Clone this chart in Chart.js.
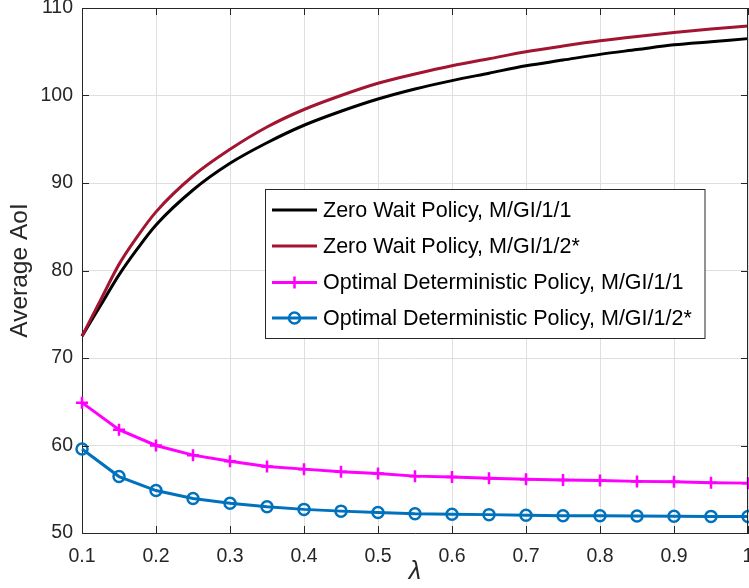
<!DOCTYPE html>
<html><head><meta charset="utf-8">
<script src="https://cdn.jsdelivr.net/npm/chart.js@4.4.1/dist/chart.umd.min.js"></script>
<style>html,body{margin:0;padding:0;background:#fff;overflow:hidden}canvas{display:block}</style>
</head><body>
<canvas id="c" width="749" height="588"></canvas>
<script>
// ---- data ----
const zwLambda = [0.1, 0.125, 0.15, 0.175, 0.2, 0.25, 0.3, 0.35, 0.4, 0.45, 0.5, 0.55, 0.6, 0.65, 0.7, 0.75, 0.8, 0.85, 0.9, 0.95, 1.0];
const zeroWaitGI11 = [72.5, 76.0, 79.5, 82.5, 85.2, 89.2, 92.25, 94.6, 96.6, 98.2, 99.6, 100.75, 101.7, 102.55, 103.4, 104.05, 104.7, 105.25, 105.8, 106.15, 106.5];
const zeroWaitGI12 = [72.5, 76.6, 80.7, 83.9, 86.7, 90.8, 93.85, 96.4, 98.4, 100.0, 101.4, 102.45, 103.4, 104.2, 105.0, 105.65, 106.25, 106.75, 107.2, 107.6, 107.95];
const optLambda = [0.1, 0.15, 0.2, 0.25, 0.3, 0.35, 0.4, 0.45, 0.5, 0.55, 0.6, 0.65, 0.7, 0.75, 0.8, 0.85, 0.9, 0.95, 1.0];
const optGI11 = [64.9, 61.8, 60.0, 58.9, 58.2, 57.6, 57.3, 57.0, 56.8, 56.5, 56.4, 56.25, 56.15, 56.05, 56.0, 55.9, 55.85, 55.75, 55.7];
const optGI12 = [59.6, 56.45, 54.85, 53.95, 53.4, 53.0, 52.7, 52.5, 52.35, 52.2, 52.15, 52.1, 52.02, 51.98, 51.96, 51.94, 51.92, 51.9, 51.88];
const xTickValues = [0.1, 0.2, 0.3, 0.4, 0.5, 0.6, 0.7, 0.8, 0.9, 1];
const yTickValues = [50, 60, 70, 80, 90, 100, 110];
const seriesLabels = ['Zero Wait Policy, M/GI/1/1', 'Zero Wait Policy, M/GI/1/2*', 'Optimal Deterministic Policy, M/GI/1/1', 'Optimal Deterministic Policy, M/GI/1/2*'];
const xTitle = 'λ';
const yTitle = 'Average AoI';

const pts = (xs, ys) => xs.map((x, i) => ({x: x, y: ys[i]}));
const FONT = '"Liberation Sans", Arial, sans-serif';
const AXC = '#262626';

const boxTicks = {
  id: 'boxTicks',
  afterDatasetsDraw(chart) {
    const {ctx, chartArea: a, scales: {x, y}} = chart;
    ctx.save();
    ctx.strokeStyle = AXC; ctx.lineWidth = 1;
    ctx.beginPath();
    ctx.moveTo(a.left, a.top + 0.5); ctx.lineTo(a.right, a.top + 0.5);
    ctx.moveTo(a.right - 0.5, a.top); ctx.lineTo(a.right - 0.5, a.bottom);
    const L = 7;
    xTickValues.forEach(v => {
      const px = Math.round(x.getPixelForValue(v)) + 0.5;
      ctx.moveTo(px, a.bottom); ctx.lineTo(px, a.bottom - L);
      ctx.moveTo(px, a.top); ctx.lineTo(px, a.top + L);
    });
    yTickValues.forEach(v => {
      const py = Math.round(y.getPixelForValue(v)) + 0.5;
      ctx.moveTo(a.left, py); ctx.lineTo(a.left + L, py);
      ctx.moveTo(a.right, py); ctx.lineTo(a.right - L, py);
    });
    ctx.stroke();
    ctx.restore();
  }
};

const insideLegend = {
  id: 'insideLegend',
  afterDraw(chart) {
    const {ctx, chartArea: a} = chart;
    const bx = a.left + 183.5, by = a.top + 181.5, bw = 439.5, bh = 149;
    ctx.save();
    ctx.fillStyle = '#fff';
    ctx.fillRect(bx, by, bw, bh);
    ctx.strokeStyle = AXC; ctx.lineWidth = 1;
    ctx.strokeRect(bx, by, bw, bh);
    const rows = [210, 246, 282.5, 318];
    chart.data.datasets.forEach((ds, i) => {
      const yy = rows[i];
      ctx.strokeStyle = ds.borderColor; ctx.lineWidth = ds.borderWidth;
      ctx.beginPath(); ctx.moveTo(272, yy); ctx.lineTo(317, yy); ctx.stroke();
      if (ds.pointRadius > 0) {
        ctx.lineWidth = ds.pointBorderWidth;
        ctx.beginPath();
        if (ds.pointStyle === 'cross') {
          const r = ds.pointRadius;
          ctx.moveTo(294.5 - r, yy); ctx.lineTo(294.5 + r, yy);
          ctx.moveTo(294.5, yy - r); ctx.lineTo(294.5, yy + r);
        } else {
          ctx.arc(294.5, yy, ds.pointRadius, 0, Math.PI * 2);
        }
        ctx.stroke();
      }
      ctx.fillStyle = '#000';
      ctx.font = '21.5px ' + FONT;
      ctx.textBaseline = 'middle';
      ctx.textAlign = 'left';
      ctx.fillText(ds.label, 323, yy + 1);
    });
    ctx.restore();
  }
};

new Chart(document.getElementById('c'), {
  type: 'line',
  data: {
    datasets: [
      {label: seriesLabels[0], data: pts(zwLambda, zeroWaitGI11), borderColor: '#000000', borderWidth: 3, pointRadius: 0, tension: 0.4, cubicInterpolationMode: 'monotone', order: 4, clip: false},
      {label: seriesLabels[1], data: pts(zwLambda, zeroWaitGI12), borderColor: '#A2142F', borderWidth: 3, pointRadius: 0, tension: 0.4, cubicInterpolationMode: 'monotone', order: 3, clip: false},
      {label: seriesLabels[2], data: pts(optLambda, optGI11), borderColor: '#FF00FF', borderWidth: 3, pointStyle: 'cross', pointRadius: 6, pointBorderWidth: 2.5, pointBorderColor: '#FF00FF', pointBackgroundColor: '#FF00FF', tension: 0, order: 2, clip: false},
      {label: seriesLabels[3], data: pts(optLambda, optGI12), borderColor: '#0072BD', borderWidth: 3, pointStyle: 'circle', pointRadius: 5.5, pointBorderWidth: 2.5, pointBorderColor: '#0072BD', pointBackgroundColor: 'rgba(255,255,255,0)', tension: 0, order: 1, clip: false}
    ]
  },
  options: {
    responsive: false,
    devicePixelRatio: 1,
    animation: false,
    layout: {autoPadding: false, padding: {top: 8, right: 1, left: 0, bottom: 0}},
    plugins: {legend: {display: false}, tooltip: {enabled: false}},
    scales: {
      x: {
        type: 'linear', min: 0.1, max: 1,
        afterBuildTicks: s => { s.ticks = xTickValues.map(v => ({value: v})); },
        afterFit: s => { s.height = 55; s.paddingLeft = 0; s.paddingRight = 0; },
        ticks: {color: AXC, font: {family: FONT, size: 19.5}, padding: 12, maxRotation: 0, autoSkip: false,
          callback: v => String(Number(v.toFixed(1)))},
        grid: {color: '#dfdfdf', lineWidth: 1, drawTicks: false},
        border: {display: true, color: AXC, width: 1},
        title: {display: true, text: xTitle, color: AXC, font: {family: FONT, size: 25, style: 'italic'}, padding: {top: 0, bottom: 1}}
      },
      y: {
        type: 'linear', min: 50, max: 110,
        afterBuildTicks: s => { s.ticks = yTickValues.map(v => ({value: v})); },
        afterFit: s => { s.width = 82; s.paddingTop = 0; s.paddingBottom = 0; },
        ticks: {color: AXC, font: {family: FONT, size: 19.5}, padding: 9, autoSkip: false},
        grid: {color: '#dfdfdf', lineWidth: 1, drawTicks: false},
        border: {display: true, color: AXC, width: 1},
        title: {display: true, text: yTitle, color: AXC, font: {family: FONT, size: 24.5}, padding: {top: 6, bottom: 0}}
      }
    }
  },
  plugins: [boxTicks, insideLegend]
});
</script>
</body></html>
